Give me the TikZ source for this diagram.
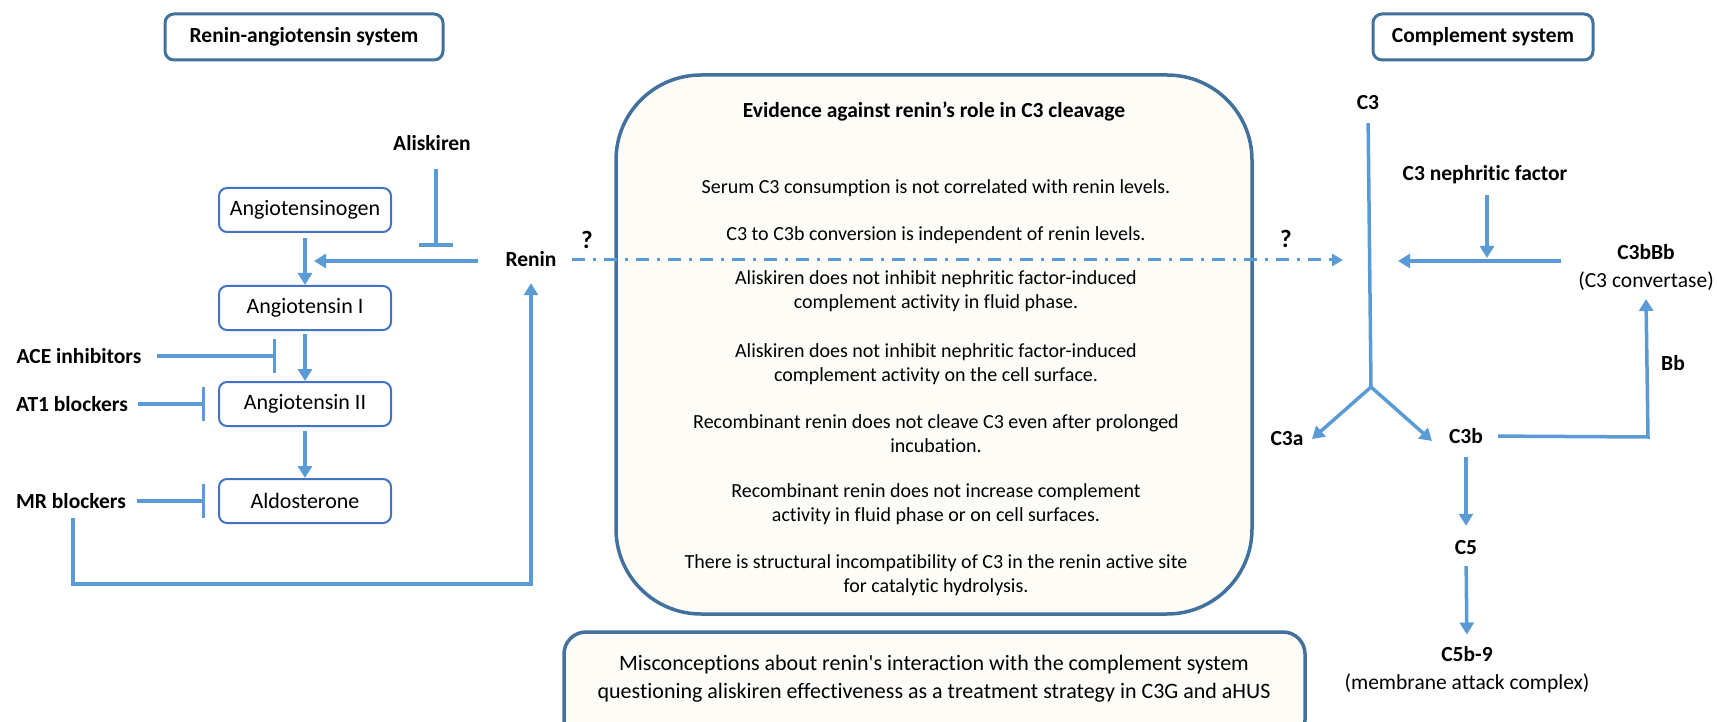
\documentclass[tikz,border=0pt]{standalone}
\usepackage{fontspec}
\setmainfont{Carlito}[Ligatures={TeX,NoCommon}]
\usetikzlibrary{arrows.meta}
\definecolor{arr}{HTML}{5B9BD5}
\definecolor{dkb}{HTML}{41719C}
\definecolor{bxb}{HTML}{4472C4}
\definecolor{cream}{HTML}{FDFCF7}
\begin{document}
\begin{tikzpicture}[x=1pt,y=-1pt,
  lbl/.style={font=\fontsize{21.5}{26}\selectfont\bfseries, inner sep=0pt, text height=14pt, text depth=0pt},
  qmark/.style={font=\fontsize{25}{28}\selectfont\bfseries, inner sep=0pt},
  compl/.style={font=\fontsize{21.5}{28}\selectfont, align=center, inner sep=0pt},
  body/.style={font=\fontsize{20}{24}\selectfont, align=center, inner sep=0pt},
  titlebox/.style={draw=dkb, line width=3pt, rounded corners=9pt, fill=white, minimum height=46pt, inner sep=0pt, font=\fontsize{21.5}{26}\selectfont\bfseries},
  flowbox/.style={draw=bxb, line width=2pt, rounded corners=8pt, minimum width=172pt, minimum height=44pt, inner sep=0pt, font=\fontsize{22}{26}\selectfont},
  panel/.style={draw=dkb, line width=3.5pt, fill=cream, inner sep=0pt},
  conn/.style={draw=arr, line width=3.5pt},
  arrowed/.style={-{Triangle[length=12pt,width=14pt]}},
  blunt/.style={-{Bar[width=34pt]}},
  qline/.style={draw=arr, line width=3pt, dash pattern=on 13pt off 8pt on 3pt off 8pt, -{Triangle[length=11pt,width=12pt]}},
]
\useasboundingbox (0,0) rectangle (1717,722);

% panels
\node[panel, rounded corners=85pt, minimum width=636pt, minimum height=539pt] (ev) at (934,344.5) {};
\node[panel, rounded corners=22pt, minimum width=741pt, minimum height=110pt] (misbox) at (934.5,687) {};

% title boxes
\node[titlebox, minimum width=278pt] (ras) at (304,37) {Renin-angiotensin system};
\node[titlebox, minimum width=220pt] (cs) at (1483,37) {Complement system};

% RAS flow
\node[flowbox] (agt) at (305,210) {Angiotensinogen};
\node[flowbox] (a1) at (305,308) {Angiotensin I};
\node[flowbox] (a2) at (305,404) {Angiotensin II};
\node[flowbox] (ald) at (305,501) {Aldosterone};

\node[lbl] (alis) at (432,144) {Aliskiren};
\node[lbl] (renin) at (531,260) {Renin};
\node[lbl] (ace) at (79,356) {ACE inhibitors};
\node[lbl] (at1) at (72,404) {AT1 blockers};
\node[lbl] (mr) at (71,501) {MR blockers};
\node[qmark] (q1) at (587,240) {?};
\node[qmark] (q2) at (1286,239) {?};

\coordinate (alisbar) at (436,247);
\coordinate (rtip) at (314,261);
\coordinate (acebar) at (276,356);
\coordinate (fb) at (300,584);
\coordinate (qtip) at (1343,260);

\draw[conn,arrowed,shorten <=5pt] (agt.south) -- (a1.north);
\draw[conn,arrowed,shorten <=3pt] (a1.south) -- (a2.north);
\draw[conn,arrowed,shorten <=4pt] (a2.south) -- (ald.north);
\draw[conn,arrowed,shorten <=27pt] (renin.west |- rtip) -- (rtip);
\draw[conn,blunt,shorten <=18pt] (alis.south -| alisbar) -- (alisbar);
\draw[conn,blunt,shorten <=15pt] (ace.east) -- (acebar);
\draw[conn,blunt,shorten <=10pt,shorten >=13pt] (at1.east) -- (a2.west);
\draw[conn,blunt,shorten <=11pt,shorten >=13pt] (mr.east) -- (ald.west);
\draw[conn,arrowed,shorten <=10pt,shorten >=16pt] ([xshift=2pt]mr.south) |- (fb) -| (renin.south);
\draw[qline,shorten <=15pt] (renin.east |- qtip) -- (qtip);

% evidence text
\node[lbl] (evt) at (934,111) {Evidence against renin’s role in C3 cleavage};
\node[body] (e1) at (936,188) {Serum C3 consumption is not correlated with renin levels.};
\node[body] (e2) at (936,235) {C3 to C3b conversion is independent of renin levels.};
\node[body] (e3) at (936,291) {Aliskiren does not inhibit nephritic factor-induced\\complement activity in fluid phase.};
\node[body] (e4) at (936,364.5) {Aliskiren does not inhibit nephritic factor-induced\\complement activity on the cell surface.};
\node[body] (e5) at (936,433.5) {Recombinant renin does not cleave C3 even after prolonged\\incubation.};
\node[body] (e6) at (936,504) {Recombinant renin does not increase complement\\activity in fluid phase or on cell surfaces.};
\node[body] (e7) at (936,575) {There is structural incompatibility of C3 in the renin active site\\for catalytic hydrolysis.};

\node[font=\fontsize{22}{28}\selectfont, align=center, inner sep=0pt] (mis) at (934,679) {Misconceptions about renin\textquotesingle s interaction with the complement system\\questioning aliskiren effectiveness as a treatment strategy in C3G and aHUS};

% complement
\node[lbl] (c3) at (1368,103) {C3};
\node[lbl] (nef) at (1485,174) {C3 nephritic factor};
\node[compl] (conv) at (1646,267) {\textbf{C3bBb}\\(C3 convertase)};
\node[lbl] (c3a) at (1287,438) {C3a};
\node[lbl] (c3b) at (1466,436) {C3b};
\node[lbl] (c5) at (1466,547) {C5};
\node[compl] (mac) at (1467,670) {\textbf{C5b-9}\\(membrane attack complex)};
\node[lbl] (bb) at (1673,363) {Bb};

\coordinate (split) at (1371,387);
\coordinate (c3atip) at (1312,439);
\coordinate (c3btip) at (1432,441);
\coordinate (convtip) at (1398,261);
\coordinate (neftip) at (1487,258);
\coordinate (bbcorner) at (1648,437);
\coordinate (bbtip) at (1646,299);

\draw[conn,shorten <=13pt] (c3.south) -- (split);
\draw[conn,arrowed] (split) -- (c3atip);
\draw[conn,arrowed] (split) -- (c3btip);
\draw[conn,arrowed,shorten <=17pt] (conv.west |- convtip) -- (convtip);
\draw[conn,arrowed,shorten <=14pt] (nef.south -| neftip) -- (neftip);
\draw[conn,arrowed,shorten <=15pt] (c3b.east) -- (bbcorner) -- (bbtip);
\draw[conn,arrowed,shorten <=14pt,shorten >=14pt] (c3b.south) -- (c5.north);
\draw[conn,arrowed,shorten <=12pt,shorten >=12pt] (c5.south) -- (mac.north);
\end{tikzpicture}
\end{document}
